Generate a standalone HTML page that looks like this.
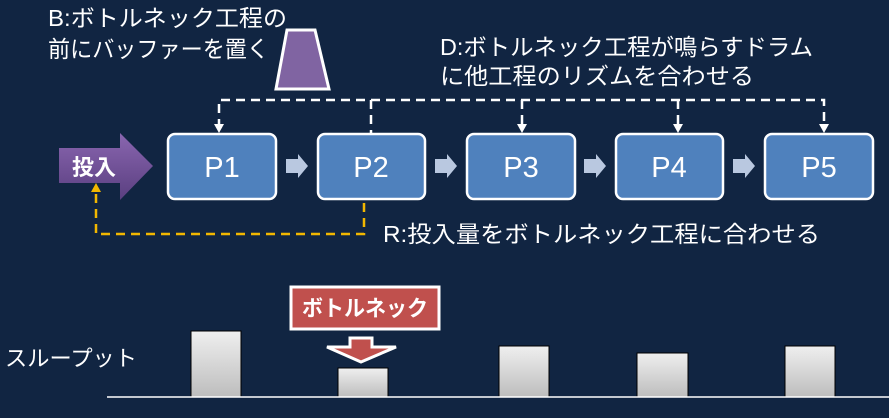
<!DOCTYPE html>
<html><head><meta charset="utf-8"><style>
html,body{margin:0;padding:0;background:#112542;}
svg{display:block;font-family:"Liberation Sans","Noto Sans CJK JP",sans-serif;}
</style></head><body>
<svg width="889" height="418" viewBox="0 0 889 418">
<defs>
<linearGradient id="g" x1="0" y1="0" x2="0" y2="1"><stop offset="0" stop-color="#efefef"/><stop offset="1" stop-color="#bdbdbd"/></linearGradient>
<linearGradient id="pg" x1="0" y1="0" x2="0" y2="1"><stop offset="0" stop-color="#8a66b0"/><stop offset="1" stop-color="#5a3f80"/></linearGradient>
</defs>
<rect width="889" height="418" fill="#112542"/>
<g fill="#fff" font-size="23">
<text x="48" y="26" textLength="239" lengthAdjust="spacingAndGlyphs">B:ボトルネック工程の</text>
<text x="48" y="57" textLength="221" lengthAdjust="spacingAndGlyphs">前にバッファーを置く</text>
<text x="440" y="55" textLength="373" lengthAdjust="spacingAndGlyphs">D:ボトルネック工程が鳴らすドラム</text>
<text x="440" y="84" textLength="314" lengthAdjust="spacingAndGlyphs">に他工程のリズムを合わせる</text>
<text x="383" y="242" textLength="437" lengthAdjust="spacingAndGlyphs">R:投入量をボトルネック工程に合わせる</text>
<text x="5" y="366" font-size="22" textLength="132" lengthAdjust="spacingAndGlyphs">スループット</text>
</g>
<polygon points="287,30 315,30 329,89 276,89" fill="#8064a2" stroke="#fff" stroke-width="3"/>
<g stroke="#fff" stroke-width="2.5" stroke-dasharray="9,6" fill="none">
<path d="M219,128 V100 H824 V128"/>
<path d="M371,100 V133"/>
<path d="M522,100 V128"/><path d="M678,100 V128"/>
</g>
<g fill="#fff">
<polygon points="214,124 224,124 219,133"/><polygon points="517,124 527,124 522,133"/>
<polygon points="673,124 683,124 678,133"/><polygon points="819,124 829,124 824,133"/>
</g>
<path d="M364,203 V234 H96 V192" stroke="#f2b700" stroke-width="2.5" stroke-dasharray="9,6" fill="none"/>
<polygon points="91,192 101,192 96,183" fill="#f2b700"/>
<polygon points="59,148 120,148 120,133 153,166 120,200 120,183 59,183" fill="url(#pg)"/>
<text x="72" y="175" fill="#fff" font-size="22" font-weight="bold">投入</text>
<g fill="#4f81bd" stroke="#fff" stroke-width="2.5">
<rect x="168" y="134" width="108" height="65" rx="7"/>
<rect x="318" y="134" width="107" height="65" rx="7"/>
<rect x="467" y="134" width="108" height="65" rx="7"/>
<rect x="616" y="134" width="107" height="65" rx="7"/>
<rect x="765" y="134" width="108" height="65" rx="7"/>
</g>
<g fill="#fff" font-size="29" text-anchor="middle">
<text x="222" y="177">P1</text><text x="371" y="177">P2</text><text x="521" y="177">P3</text><text x="669" y="177">P4</text><text x="819" y="177">P5</text>
</g>
<g fill="#b9c8e0">
<polygon points="286,159 298,159 298,154 308,166 298,178 298,173 286,173"/>
<polygon points="435,159 447,159 447,154 457,166 447,178 447,173 435,173"/>
<polygon points="584,159 596,159 596,154 606,166 596,178 596,173 584,173"/>
<polygon points="733,159 745,159 745,154 755,166 745,178 745,173 733,173"/>
</g>
<rect x="291" y="287" width="148" height="42" fill="#c0504d" stroke="#fff" stroke-width="3"/>
<text x="365" y="316" fill="#fff" font-size="22" font-weight="bold" text-anchor="middle" textLength="126" lengthAdjust="spacingAndGlyphs">ボトルネック</text>
<polygon points="350,338 372,338 372,347 396,347 361,362 327,347 350,347" fill="#c0504d" stroke="#fff" stroke-width="3"/>
<g fill="url(#g)" stroke="#000" stroke-width="1">
<rect x="191" y="331" width="50" height="66"/>
<rect x="338" y="368" width="50" height="29"/>
<rect x="499" y="346" width="50" height="51"/>
<rect x="637" y="353" width="51" height="44"/>
<rect x="785" y="346" width="50" height="51"/>
</g>
<line x1="107" y1="397" x2="889" y2="397" stroke="#fff" stroke-width="1.5"/>
</svg>
</body></html>
